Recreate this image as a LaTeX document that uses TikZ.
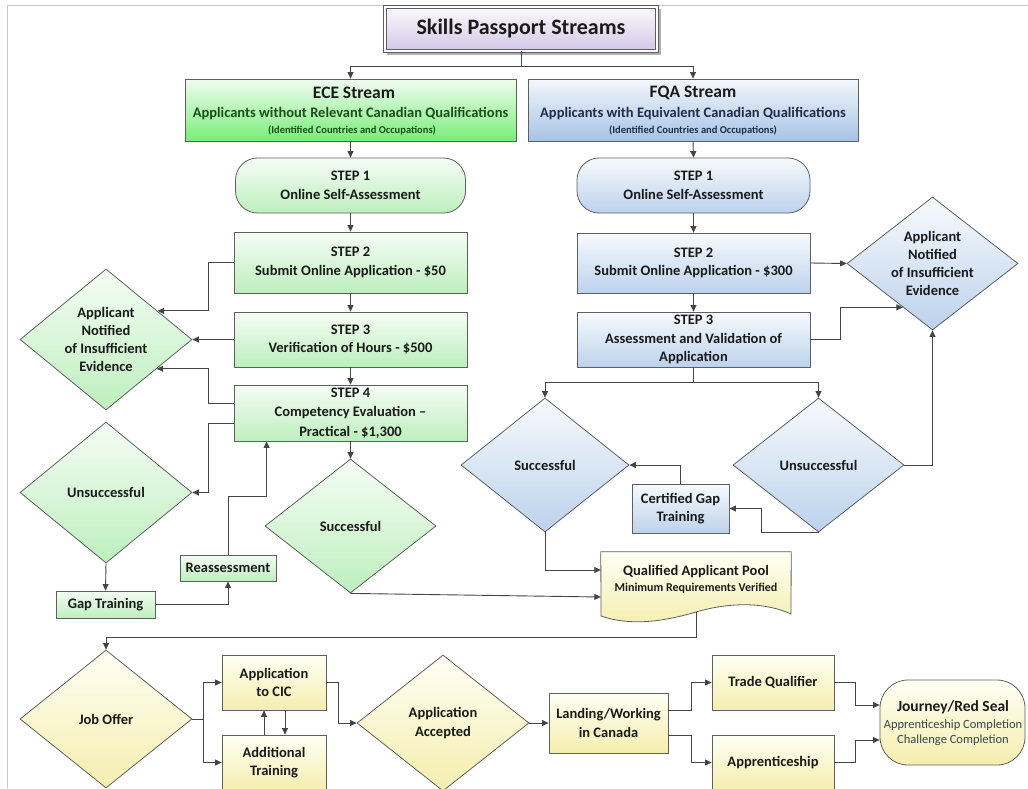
\documentclass[tikz,border=0pt]{standalone}
\usepackage{fontspec}
\setmainfont{Carlito}
\usetikzlibrary{shapes.geometric,arrows.meta,calc}
\definecolor{linecol}{HTML}{454545}
\definecolor{bordercol}{HTML}{5F5F5F}
\definecolor{framecol}{HTML}{C8C8C8}
\definecolor{ehtop}{HTML}{F0FCF0}
\definecolor{ehbot}{HTML}{78EE78}
\definecolor{gtop}{HTML}{F5FDF5}
\definecolor{gbot}{HTML}{BDEFBD}
\definecolor{fhtop}{HTML}{F3F7FC}
\definecolor{fhbot}{HTML}{A6C3E5}
\definecolor{btop}{HTML}{F7FAFD}
\definecolor{bbot}{HTML}{BCD2EC}
\definecolor{ytop}{HTML}{FFFFF4}
\definecolor{ybot}{HTML}{F4EEAE}
\definecolor{ttop}{HTML}{FBFAFD}
\definecolor{tbot}{HTML}{D3C6E6}
\definecolor{ecetext}{HTML}{1B4D1B}
\definecolor{fqatext}{HTML}{1C2E4A}
\definecolor{txtcol}{HTML}{1A1A1A}
\definecolor{subgray}{HTML}{34474A}
\definecolor{shadowcol}{HTML}{B0B0B0}
\begin{document}
\begin{tikzpicture}[x=1pt,y=-1pt,
  mainfont/.style={font=\fontsize{14.5}{18.5}\selectfont\bfseries},
  base/.style={draw=bordercol, line width=0.8pt, inner sep=2pt, align=center, text=txtcol, mainfont},
  gbox/.style={base, rectangle, top color=gtop, bottom color=gbot},
  bbox/.style={base, rectangle, top color=btop, bottom color=bbot},
  ybox/.style={base, rectangle, top color=ytop, bottom color=ybot},
  gpill/.style={gbox, rounded corners=22pt},
  bpill/.style={bbox, rounded corners=22pt},
  gdia/.style={draw=bordercol, line width=0.8pt, diamond, inner sep=0pt, top color=gtop, bottom color=gbot},
  bdia/.style={draw=bordercol, line width=0.8pt, diamond, inner sep=0pt, top color=btop, bottom color=bbot},
  ydia/.style={draw=bordercol, line width=0.8pt, diamond, inner sep=0pt, top color=ytop, bottom color=ybot},
  lbl/.style={align=center, inner sep=0pt, text=txtcol, mainfont},
  conn/.style={draw=linecol, line width=0.9pt},
  arr/.style={conn, -{Triangle[length=6.5pt,width=6pt]}}
]
\useasboundingbox (0,0) rectangle (1028,788);
\clip (0,0) rectangle (1028,788);
\fill[white] (0,0) rectangle (1028,788);
% page frame
\draw[framecol, line width=1pt] (7,788) -- (7,5) -- (1028,5);

% title
\fill[shadowcol] (387,9) rectangle (661,55);
\node[draw=bordercol, line width=0.7pt, double=white, double distance=2.2pt,
      top color=ttop, bottom color=tbot, minimum width=272pt, minimum height=44pt,
      font=\fontsize{22}{26}\selectfont\bfseries, text=txtcol] (title) at (521,29) {Skills Passport Streams};

% stream headers
\node[draw=bordercol, line width=0.8pt, top color=ehtop, bottom color=ehbot,
      minimum width=331pt, minimum height=62pt] (eceh) at (350.5,110) {};
\node[lbl, font=\fontsize{17.5}{20}\selectfont\bfseries] (eceh1) at (354,93) {ECE Stream};
\node[lbl, text=ecetext] (eceh2) at (350.5,113.5) {Applicants without Relevant Canadian Qualifications};
\node[lbl, text=ecetext, font=\fontsize{10.5}{12}\selectfont\bfseries] (eceh3) at (352,130.5) {(Identified Countries and Occupations)};

\node[draw=bordercol, line width=0.8pt, top color=fhtop, bottom color=fhbot,
      minimum width=330pt, minimum height=62pt] (fqah) at (693,110) {};
\node[lbl, font=\fontsize{17.5}{20}\selectfont\bfseries] (fqah1) at (693,93) {FQA Stream};
\node[lbl, text=fqatext] (fqah2) at (693,113.5) {Applicants with Equivalent Canadian Qualifications};
\node[lbl, text=fqatext, font=\fontsize{10.5}{12}\selectfont\bfseries] (fqah3) at (693,130.5) {(Identified Countries and Occupations)};

% ECE column
\node[gpill, minimum width=230pt, minimum height=55pt] (e1) at (350.5,185.5) {STEP 1\\Online Self-Assessment};
\node[gbox, minimum width=233pt, minimum height=61pt] (e2) at (350.5,262.5) {STEP 2\\Submit Online Application - \$50};
\node[gbox, minimum width=233pt, minimum height=55pt] (e3) at (350.5,339.5) {STEP 3\\Verification of Hours - \$500};
\node[gbox, minimum width=233pt, minimum height=56pt, inner sep=0pt, font=\fontsize{14.5}{19.5}\selectfont\bfseries] (e4) at (350.5,413) {STEP 4\\Competency Evaluation --\\Practical - \$1,300};

\node[gdia, minimum width=172pt, minimum height=141pt] (en) at (106,339.5) {};
\node[lbl, font=\fontsize{14.5}{18}\selectfont\bfseries] (ent) at (en) {Applicant\\Notified\\of Insufficient\\Evidence};
\node[gdia, minimum width=172pt, minimum height=141pt] (eu) at (106,492.5) {};
\node[lbl] (eut) at (eu) {Unsuccessful};
\node[gdia, minimum width=171pt, minimum height=134pt] (es) at (350.5,526) {};
\node[lbl] (est) at (es) {Successful};
\node[gbox, minimum width=99pt, minimum height=27pt] (gap) at (105.5,604.5) {Gap Training};
\node[gbox, minimum width=96pt, minimum height=26pt] (re) at (228,568) {Reassessment};

% FQA column
\node[bpill, minimum width=233pt, minimum height=55pt] (f1) at (693.5,185.5) {STEP 1\\Online Self-Assessment};
\node[bbox, minimum width=233pt, minimum height=60pt] (f2) at (693.5,263) {STEP 2\\Submit Online Application - \$300};
\node[bbox, minimum width=233pt, minimum height=55pt, inner sep=0pt] (f3) at (693.5,339.5) {STEP 3\\Assessment and Validation of\\Application};
\node[bdia, minimum width=171pt, minimum height=133pt] (fn) at (932.5,263.5) {};
\node[lbl, font=\fontsize{14.5}{18}\selectfont\bfseries] (fnt) at (fn) {Applicant\\Notified\\of Insufficient\\Evidence};
\node[bdia, minimum width=168pt, minimum height=134pt] (fs) at (545,465) {};
\node[lbl] (fst) at (fs) {Successful};
\node[bdia, minimum width=171pt, minimum height=134pt] (fu) at (818.5,465) {};
\node[lbl] (fut) at (fu) {Unsuccessful};
\node[bbox, minimum width=97pt, minimum height=49pt] (cert) at (680.5,508.5) {Certified Gap\\Training};

% qualified applicant pool (document shape)
\node[minimum width=190pt, minimum height=56pt, inner sep=0pt] (doc) at (696,580) {};
\draw[draw=bordercol, line width=0.8pt, top color=ytop, bottom color=ybot]
  (doc.north west) -- (doc.north east) -- (791,614)
  .. controls (765,602) and (730,602) .. (696,612)
  .. controls (662,622) and (630,626) .. (601,616) -- cycle;
\coordinate (docb) at (696,612);
\node[lbl] (doct1) at (696,572) {Qualified Applicant Pool};
\node[lbl, font=\fontsize{12}{14}\selectfont\bfseries] (doct2) at (696,588) {Minimum Requirements Verified};

% bottom row
\node[ydia, minimum width=172pt, minimum height=138pt] (jo) at (106,719) {};
\node[lbl] (jot) at (jo) {Job Offer};
\node[ybox, minimum width=104pt, minimum height=55pt] (cic) at (274,682.5) {Application\\to CIC};
\node[ybox, minimum width=104pt, minimum height=55pt] (add) at (274,762.5) {Additional\\Training};
\node[ydia, minimum width=172pt, minimum height=136pt] (aa) at (443,723) {};
\node[lbl] (aat) at (aa) {Application\\Accepted};
\node[ybox, minimum width=119pt, minimum height=60pt] (land) at (608.5,723) {Landing/Working\\in Canada};
\node[ybox, minimum width=122pt, minimum height=55pt] (tq) at (773,682.5) {Trade Qualifier};
\node[ybox, minimum width=122pt, minimum height=55pt] (ap) at (773,762.5) {Apprenticeship};
\node[ybox, rounded corners=28pt, minimum width=145pt, minimum height=85pt] (jr) at (952.5,722.5) {};
\node[lbl, font=\fontsize{15.5}{18}\selectfont\bfseries] (jr1) at (953,707) {Journey/Red Seal};
\node[lbl, font=\fontsize{12.5}{14}\selectfont, text=subgray] (jr2) at (953,725) {Apprenticeship Completion};
\node[lbl, font=\fontsize{12.5}{14}\selectfont, text=subgray] (jr3) at (953,740) {Challenge Completion};

% connectors: top
\draw[arr] (title.south) -- ++(0,15) -| (eceh.north);
\draw[arr] (title.south) -- ++(0,15) -| (fqah.north);
\draw[arr] (eceh.south) -- (e1.north);
\draw[arr] (fqah.south) -- (f1.north);
% ECE
\draw[arr] (e1.south) -- (e2.north);
\draw[arr] (e2.south) -- (e3.north);
\draw[arr] (e3.south) -- (e4.north);
\draw[arr] (e2.west) -- ++(-25,0) |- (en.29);
\draw[arr] (e3.west) -- (en.east);
\draw[arr] ($(e4.west)+(0,-10)$) -- ++(-25,0) |- (en.-30);
\draw[arr] ($(e4.west)+(0,10)$) -- ++(-25,0) |- (eu.east);
\draw[arr] (eu.south) -- (gap.north);
\draw[arr] (gap.east) -| (re.south);
\draw[arr] (re.north) -- ++(0,-58) -| ($(e4.south west)+(33,0)$);
\draw[arr] (e4.south) -- (es.north);
\draw[arr] (es.south) -- ($(doc.west)+(0,17)$);
% FQA
\draw[arr] (f1.south) -- (f2.north);
\draw[arr] (f2.south) -- (f3.north);
\draw[arr] (f2.east) -- (fn.west);
\draw[arr] (f3.east) -- ++(30,0) |- (fn.-124);
\draw[arr] (f3.south) -- ++(0,15) -| (fs.north);
\draw[arr] (f3.south) -- ++(0,15) -| (fu.north);
\draw[arr] (fu.east) -| (fn.south);
\draw[arr] (fu.south) -- ++(-57.5,0) |- (cert.east);
\draw[arr] (cert.north) |- (fs.east);
\draw[arr] (fs.south) |- ($(doc.west)+(0,-10)$);
% bottom
\draw[arr] (docb) -- ++(0,25) -| (jo.north);
\draw[arr] (jo.east) -- ++(11,0) |- (cic.west);
\draw[arr] (jo.east) -- ++(11,0) |- (add.west);
\draw[arr] ($(add.north)+(-10,0)$) -- ($(cic.south)+(-10,0)$);
\draw[arr] ($(cic.south)+(11,0)$) -- ($(add.north)+(11,0)$);
\draw[arr] (cic.east) -- ++(12,0) |- (aa.west);
\draw[arr] (aa.east) -- (land.west);
\draw[arr] ($(land.east)+(0,-13)$) -- ++(23,0) |- (tq.west);
\draw[arr] ($(land.east)+(0,12)$) -- ++(23,0) |- (ap.west);
\draw[arr] (tq.east) -- ++(21,0) |- ($(jr.west)+(0,-17.5)$);
\draw[arr] (ap.east) -- ++(21,0) |- ($(jr.west)+(0,17.5)$);
\end{tikzpicture}
\end{document}
